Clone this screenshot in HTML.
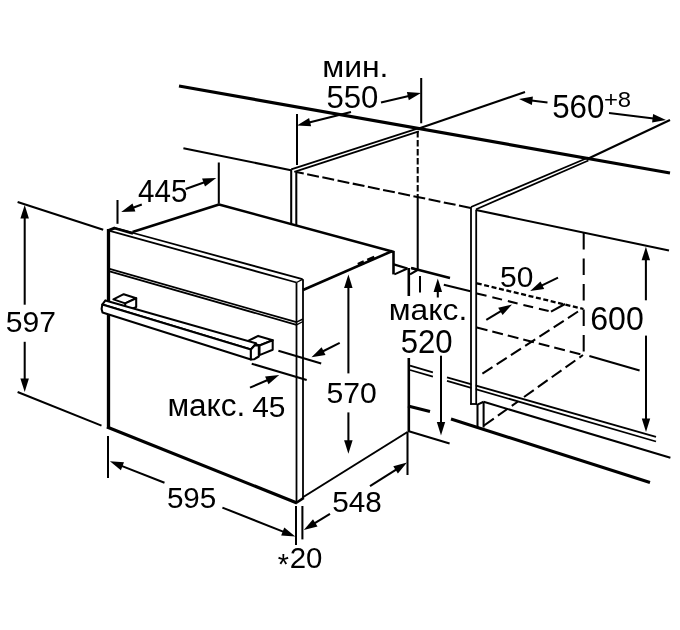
<!DOCTYPE html>
<html><head><meta charset="utf-8"><style>
html,body{margin:0;padding:0;background:#fff;}
svg{display:block;will-change:transform;}
text{font-family:"Liberation Sans",sans-serif;fill:#000;stroke:none;}
</style></head><body>
<svg width="680" height="630" viewBox="0 0 680 630">
<rect width="680" height="630" fill="#fff"/>
<g stroke="#000" fill="none">
<line x1="179.0" y1="86.0" x2="670.0" y2="173.0" stroke-width="3.2" stroke-linecap="butt"/>
<text transform="translate(324.40,76.50) scale(1.0788,1)" x="-2.07" y="0" font-size="29.62">мин.</text>
<text transform="translate(327.70,108.20) scale(1.0054,1)" x="-1.24" y="0" font-size="31.00">550</text>
<line x1="421.2" y1="78.0" x2="421.2" y2="123.3" stroke-width="2.05" stroke-linecap="butt"/>
<line x1="381.0" y1="102.5" x2="408.8" y2="95.9" stroke-width="2.05" stroke-linecap="butt"/>
<polygon points="421.0,93.0 408.8,100.3 406.9,92.0" fill="#000" stroke="none"/>
<line x1="297.0" y1="114.0" x2="297.0" y2="165.0" stroke-width="2.05" stroke-linecap="butt"/>
<line x1="351.0" y1="112.0" x2="309.1" y2="122.5" stroke-width="2.05" stroke-linecap="butt"/>
<polygon points="297.0,125.5 309.1,118.1 311.1,126.3" fill="#000" stroke="none"/>
<line x1="418.8" y1="128.5" x2="525.0" y2="92.0" stroke-width="2.05" stroke-linecap="butt"/>
<line x1="547.5" y1="102.5" x2="531.4" y2="100.5" stroke-width="2.05" stroke-linecap="butt"/>
<polygon points="519.0,99.0 532.9,96.4 531.9,104.9" fill="#000" stroke="none"/>
<line x1="609.0" y1="113.0" x2="653.6" y2="118.5" stroke-width="2.05" stroke-linecap="butt"/>
<polygon points="666.0,120.0 652.1,122.6 653.1,114.1" fill="#000" stroke="none"/>
<line x1="670.0" y1="120.0" x2="588.4" y2="158.5" stroke-width="2.05" stroke-linecap="butt"/>
<text transform="translate(553.40,118.40) scale(0.9524,1)" x="-1.31" y="0" font-size="32.86">560</text>
<text transform="translate(605.10,106.50) scale(1.0458,1)" x="-1.14" y="0" font-size="22.86">+8</text>
<line x1="291.2" y1="169.4" x2="418.8" y2="128.2" stroke-width="1.8" stroke-linecap="butt"/>
<line x1="294.3" y1="171.8" x2="418.8" y2="131.3" stroke-width="1.8" stroke-linecap="butt"/>
<line x1="183.4" y1="148.2" x2="291.0" y2="170.2" stroke-width="2.05" stroke-linecap="butt"/>
<line x1="291.2" y1="169.4" x2="291.2" y2="223.7" stroke-width="2.05" stroke-linecap="butt"/>
<line x1="296.3" y1="171.5" x2="296.3" y2="225.1" stroke-width="2.05" stroke-linecap="butt"/>
<line x1="296.3" y1="172.0" x2="471.0" y2="208.0" stroke-width="2.05" stroke-dasharray="12 3.5" stroke-dashoffset="4.4" stroke-linecap="butt"/>
<line x1="417.7" y1="131.0" x2="417.7" y2="197.0" stroke-width="2.05" stroke-dasharray="6.5 2.5" stroke-linecap="butt"/>
<line x1="417.7" y1="197.0" x2="417.7" y2="270.0" stroke-width="2.05" stroke-linecap="butt"/>
<line x1="471.0" y1="207.0" x2="588.4" y2="157.5" stroke-width="1.8" stroke-linecap="butt"/>
<line x1="474.5" y1="210.0" x2="588.4" y2="160.5" stroke-width="1.8" stroke-linecap="butt"/>
<line x1="476.0" y1="210.0" x2="669.0" y2="250.6" stroke-width="2.05" stroke-linecap="butt"/>
<line x1="583.7" y1="233.0" x2="583.7" y2="355.0" stroke-width="2.05" stroke-dasharray="16.5 9" stroke-linecap="butt"/>
<line x1="645.9" y1="300.3" x2="645.9" y2="259.3" stroke-width="2.05" stroke-linecap="butt"/>
<polygon points="645.9,246.8 650.1,260.3 641.6,260.3" fill="#000" stroke="none"/>
<line x1="646.0" y1="335.6" x2="646.0" y2="419.5" stroke-width="2.05" stroke-linecap="butt"/>
<polygon points="646.0,432.0 641.8,418.5 650.2,418.5" fill="#000" stroke="none"/>
<text transform="translate(591.80,330.30) scale(0.9570,1)" x="-1.68" y="0" font-size="33.57">600</text>
<text transform="translate(501.25,286.70) scale(0.9984,1)" x="-1.20" y="0" font-size="30.00">50</text>
<line x1="558.0" y1="277.7" x2="541.5" y2="285.7" stroke-width="2.05" stroke-linecap="butt"/>
<polygon points="530.2,291.1 540.5,281.4 544.2,289.1" fill="#000" stroke="none"/>
<line x1="486.3" y1="319.8" x2="501.3" y2="310.9" stroke-width="2.05" stroke-linecap="butt"/>
<polygon points="512.0,304.5 502.6,315.1 498.2,307.8" fill="#000" stroke="none"/>
<line x1="476.8" y1="283.3" x2="583.5" y2="309.0" stroke-width="2.3" stroke-dasharray="5 2.6" stroke-linecap="butt"/>
<line x1="476.8" y1="293.4" x2="551.0" y2="311.7" stroke-width="2.05" stroke-dasharray="10 6" stroke-linecap="butt"/>
<line x1="551.0" y1="311.7" x2="565.0" y2="304.0" stroke-width="2.05" stroke-linecap="butt"/>
<line x1="482.4" y1="373.6" x2="582.5" y2="308.6" stroke-width="2.05" stroke-dasharray="12 5" stroke-linecap="butt"/>
<line x1="476.8" y1="327.4" x2="583.0" y2="355.0" stroke-width="2.05" stroke-dasharray="11 5" stroke-linecap="butt"/>
<line x1="589.4" y1="356.0" x2="639.6" y2="370.5" stroke-width="2.05" stroke-linecap="butt"/>
<line x1="524.0" y1="397.0" x2="583.0" y2="355.0" stroke-width="2.05" stroke-dasharray="12 5" stroke-linecap="butt"/>
<line x1="484.0" y1="425.5" x2="518.0" y2="401.5" stroke-width="2.05" stroke-dasharray="12 5" stroke-linecap="butt"/>
<line x1="410.0" y1="365.7" x2="432.9" y2="372.3" stroke-width="1.8" stroke-linecap="butt"/>
<line x1="447.0" y1="377.4" x2="656.0" y2="436.8" stroke-width="1.8" stroke-linecap="butt"/>
<line x1="410.0" y1="370.0" x2="432.9" y2="376.7" stroke-width="1.8" stroke-linecap="butt"/>
<line x1="447.0" y1="380.8" x2="656.0" y2="441.5" stroke-width="1.8" stroke-linecap="butt"/>
<line x1="483.6" y1="401.8" x2="670.4" y2="457.8" stroke-width="2.05" stroke-linecap="butt"/>
<line x1="477.5" y1="404.6" x2="483.6" y2="401.8" stroke-width="2.05" stroke-linecap="butt"/>
<line x1="477.5" y1="404.0" x2="477.5" y2="427.0" stroke-width="2.05" stroke-linecap="butt"/>
<line x1="483.6" y1="401.8" x2="483.6" y2="427.5" stroke-width="2.05" stroke-linecap="butt"/>
<rect x="471.5" y="208" width="4.2" height="196" fill="#fff" stroke="none"/>
<line x1="471.0" y1="207.0" x2="471.0" y2="404.5" stroke-width="1.8" stroke-linecap="butt"/>
<line x1="476.2" y1="210.0" x2="476.2" y2="404.5" stroke-width="1.8" stroke-linecap="butt"/>
<line x1="470.1" y1="404.0" x2="477.1" y2="404.0" stroke-width="1.8" stroke-linecap="butt"/>
<line x1="408.0" y1="406.0" x2="430.0" y2="411.5" stroke-width="3" stroke-linecap="butt"/>
<line x1="451.0" y1="419.0" x2="650.0" y2="482.5" stroke-width="3" stroke-linecap="butt"/>
<text transform="translate(391.00,320.00) scale(1.1073,1)" x="-2.01" y="0" font-size="28.68">макс.</text>
<text transform="translate(401.90,352.50) scale(0.9435,1)" x="-1.32" y="0" font-size="33.00">520</text>
<line x1="437.8" y1="297.5" x2="437.8" y2="291.1" stroke-width="2.05" stroke-linecap="butt"/>
<polygon points="437.8,278.6 442.1,292.1 433.6,292.1" fill="#000" stroke="none"/>
<line x1="441.0" y1="355.7" x2="441.0" y2="423.0" stroke-width="2.05" stroke-linecap="butt"/>
<polygon points="441.0,435.5 436.8,422.0 445.2,422.0" fill="#000" stroke="none"/>
<line x1="411.2" y1="268.0" x2="450.0" y2="278.0" stroke-width="2.6" stroke-linecap="butt"/>
<line x1="443.8" y1="284.8" x2="470.5" y2="291.3" stroke-width="2.05" stroke-linecap="butt"/>
<line x1="408.8" y1="268.0" x2="408.8" y2="296.0" stroke-width="2.6" stroke-linecap="butt"/>
<line x1="408.8" y1="358.0" x2="408.8" y2="432.0" stroke-width="2.6" stroke-linecap="butt"/>
<line x1="420.0" y1="276.0" x2="420.0" y2="292.5" stroke-width="2.05" stroke-linecap="butt"/>
<line x1="408.0" y1="431.0" x2="449.6" y2="443.5" stroke-width="2.05" stroke-linecap="butt"/>
<line x1="407.5" y1="432.0" x2="407.5" y2="475.0" stroke-width="2.05" stroke-linecap="butt"/>
<line x1="108.5" y1="229.0" x2="108.5" y2="428.0" stroke-width="3.3" stroke-linecap="butt"/>
<line x1="107.0" y1="427.0" x2="297.0" y2="503.0" stroke-width="3.2" stroke-linecap="butt"/>
<line x1="296.5" y1="282.5" x2="296.5" y2="502.0" stroke-width="1.8" stroke-linecap="butt"/>
<line x1="303.0" y1="279.2" x2="303.0" y2="498.0" stroke-width="1.8" stroke-linecap="butt"/>
<line x1="115.0" y1="228.0" x2="302.4" y2="279.2" stroke-width="1.8" stroke-linecap="butt"/>
<line x1="108.0" y1="230.3" x2="296.5" y2="282.5" stroke-width="1.8" stroke-linecap="butt"/>
<line x1="296.5" y1="282.5" x2="303.0" y2="279.2" stroke-width="1.4" stroke-linecap="butt"/>
<line x1="107.5" y1="230.8" x2="115.0" y2="227.8" stroke-width="3" stroke-linecap="butt"/>
<line x1="114.0" y1="228.0" x2="133.0" y2="233.3" stroke-width="2.8" stroke-linecap="butt"/>
<line x1="107.9" y1="268.4" x2="296.5" y2="322.2" stroke-width="1.8" stroke-linecap="butt"/>
<line x1="107.9" y1="270.8" x2="296.5" y2="324.8" stroke-width="1.8" stroke-linecap="butt"/>
<line x1="296.5" y1="322.2" x2="303.0" y2="319.0" stroke-width="1.4" stroke-linecap="butt"/>
<line x1="296.5" y1="324.8" x2="303.0" y2="321.5" stroke-width="1.4" stroke-linecap="butt"/>
<line x1="132.5" y1="232.0" x2="219.0" y2="204.5" stroke-width="2.6" stroke-linecap="butt"/>
<line x1="219.0" y1="204.5" x2="394.0" y2="252.0" stroke-width="2.4" stroke-linecap="butt"/>
<line x1="303.0" y1="290.0" x2="392.4" y2="251.0" stroke-width="2.6" stroke-linecap="butt"/>
<line x1="358.0" y1="264.6" x2="364.0" y2="262.0" stroke-width="3.6" stroke-linecap="butt"/>
<line x1="367.5" y1="260.3" x2="374.5" y2="257.3" stroke-width="3.6" stroke-linecap="butt"/>
<line x1="393.5" y1="251.0" x2="393.5" y2="274.4" stroke-width="2.6" stroke-linecap="butt"/>
<line x1="393.8" y1="264.4" x2="407.5" y2="268.5" stroke-width="2.2" stroke-linecap="butt"/>
<line x1="407.5" y1="268.5" x2="394.4" y2="274.4" stroke-width="2.05" stroke-linecap="butt"/>
<line x1="411.0" y1="268.0" x2="417.5" y2="270.0" stroke-width="2.05" stroke-linecap="butt"/>
<line x1="417.5" y1="270.0" x2="410.0" y2="274.4" stroke-width="2.05" stroke-linecap="butt"/>
<line x1="302.5" y1="497.5" x2="407.5" y2="432.0" stroke-width="2.05" stroke-linecap="butt"/>
<line x1="296.0" y1="503.0" x2="303.8" y2="497.8" stroke-width="2.6" stroke-linecap="butt"/>
<polygon points="113.4,299.4 123.7,294.2 136.2,298.3 125.2,303.4" stroke-width="2.05" fill="#fff" stroke-linejoin="round"/>
<polygon points="125.2,303.4 136.2,298.3 136.2,307.1 125.2,311.0" stroke-width="2.05" fill="#fff" stroke-linejoin="round"/>
<polygon points="247.6,341.2 258.2,335.9 272.7,340.2 259.5,345.5" stroke-width="2.05" fill="#fff" stroke-linejoin="round"/>
<polygon points="259.5,345.5 272.7,340.2 272.7,349.8 259.5,355.1" stroke-width="2.05" fill="#fff" stroke-linejoin="round"/>
<polygon points="105.4,300.4 256.0,343.3 250.9,349.5 102.3,304.6" stroke-width="2.05" fill="#fff" stroke-linejoin="round"/>
<polygon points="102.3,304.6 250.9,349.5 250.9,359.4 102.5,312.6 101.6,309.0" stroke-width="2.05" fill="#fff" stroke-linejoin="round"/>
<polygon points="250.9,349.5 254.5,345.6 258.8,345.2 258.8,356.5 254.0,359.3 250.9,359.4" stroke-width="2.05" fill="#fff" stroke-linejoin="round"/>
<line x1="117.5" y1="200.0" x2="117.5" y2="223.8" stroke-width="2.05" stroke-linecap="butt"/>
<line x1="218.8" y1="162.5" x2="218.8" y2="203.8" stroke-width="2.05" stroke-linecap="butt"/>
<line x1="141.8" y1="204.5" x2="133.0" y2="207.7" stroke-width="2.05" stroke-linecap="butt"/>
<polygon points="121.2,212.0 132.5,203.4 135.4,211.4" fill="#000" stroke="none"/>
<line x1="185.6" y1="189.0" x2="204.5" y2="182.2" stroke-width="2.05" stroke-linecap="butt"/>
<polygon points="216.2,178.0 205.0,186.6 202.1,178.6" fill="#000" stroke="none"/>
<text transform="translate(138.75,202.40) scale(0.9678,1)" x="-0.76" y="0" font-size="30.58">445</text>
<line x1="17.6" y1="202.0" x2="103.2" y2="229.7" stroke-width="2.05" stroke-linecap="butt"/>
<line x1="17.6" y1="392.0" x2="101.5" y2="425.6" stroke-width="2.05" stroke-linecap="butt"/>
<line x1="24.7" y1="304.7" x2="24.7" y2="217.5" stroke-width="2.05" stroke-linecap="butt"/>
<polygon points="24.7,205.0 28.9,218.5 20.4,218.5" fill="#000" stroke="none"/>
<line x1="24.7" y1="341.8" x2="24.7" y2="379.5" stroke-width="2.05" stroke-linecap="butt"/>
<polygon points="24.7,392.0 20.4,378.5 28.9,378.5" fill="#000" stroke="none"/>
<text transform="translate(7.06,331.80) scale(0.9925,1)" x="-1.21" y="0" font-size="30.29">597</text>
<line x1="108.0" y1="436.0" x2="108.0" y2="478.0" stroke-width="2.05" stroke-linecap="butt"/>
<line x1="296.0" y1="506.0" x2="296.0" y2="545.0" stroke-width="2.05" stroke-linecap="butt"/>
<line x1="302.4" y1="506.0" x2="302.4" y2="539.4" stroke-width="2.05" stroke-linecap="butt"/>
<line x1="164.5" y1="482.8" x2="121.5" y2="465.9" stroke-width="2.05" stroke-linecap="butt"/>
<polygon points="109.9,461.3 124.0,462.3 120.9,470.2" fill="#000" stroke="none"/>
<line x1="222.4" y1="507.6" x2="283.7" y2="531.9" stroke-width="2.05" stroke-linecap="butt"/>
<polygon points="295.3,536.5 281.2,535.5 284.3,527.6" fill="#000" stroke="none"/>
<text transform="translate(168.10,508.20) scale(0.9863,1)" x="-1.20" y="0" font-size="30.00">595</text>
<line x1="330.0" y1="513.8" x2="314.4" y2="523.4" stroke-width="2.05" stroke-linecap="butt"/>
<polygon points="303.8,530.0 313.0,519.3 317.5,526.5" fill="#000" stroke="none"/>
<line x1="370.0" y1="486.2" x2="396.5" y2="469.3" stroke-width="2.05" stroke-linecap="butt"/>
<polygon points="407.0,462.5 397.9,473.4 393.3,466.2" fill="#000" stroke="none"/>
<text transform="translate(333.40,511.60) scale(1.0125,1)" x="-1.17" y="0" font-size="29.29">548</text>
<line x1="348.4" y1="373.4" x2="348.4" y2="286.9" stroke-width="2.05" stroke-linecap="butt"/>
<polygon points="348.4,274.4 352.6,287.9 344.1,287.9" fill="#000" stroke="none"/>
<line x1="348.4" y1="412.4" x2="348.4" y2="441.2" stroke-width="2.05" stroke-linecap="butt"/>
<polygon points="348.4,453.8 344.1,440.2 352.6,440.2" fill="#000" stroke="none"/>
<text transform="translate(327.60,403.20) scale(1.0053,1)" x="-1.20" y="0" font-size="30.00">570</text>
<line x1="278.4" y1="350.7" x2="321.2" y2="363.4" stroke-width="2.05" stroke-linecap="butt"/>
<line x1="251.7" y1="363.7" x2="306.7" y2="379.9" stroke-width="2.05" stroke-linecap="butt"/>
<line x1="339.7" y1="342.9" x2="322.6" y2="351.5" stroke-width="2.05" stroke-linecap="butt"/>
<polygon points="311.5,357.2 321.6,347.3 325.5,354.9" fill="#000" stroke="none"/>
<line x1="250.0" y1="387.6" x2="267.7" y2="380.0" stroke-width="2.05" stroke-linecap="butt"/>
<polygon points="279.2,375.0 268.5,384.3 265.1,376.4" fill="#000" stroke="none"/>
<text transform="translate(169.60,416.40) scale(0.9936,1)" x="-2.22" y="0" font-size="31.70">макс.</text>
<text transform="translate(252.90,417.20) scale(1.0099,1)" x="-0.74" y="0" font-size="29.57">45</text>
<text transform="translate(291.20,568.20) scale(1.0294,1)" x="-1.43" y="0" font-size="28.57">20</text>
<text transform="translate(278.20,573.81) scale(1.0000,1)" x="-0.57" y="0" font-size="28.57">*</text>
</g>
</svg>
</body></html>
